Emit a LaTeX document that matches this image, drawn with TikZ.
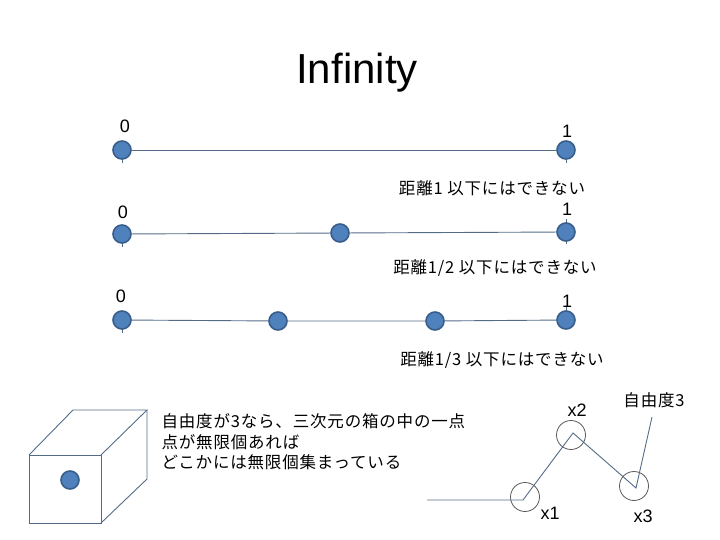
\documentclass[tikz,border=0pt]{standalone}
\usepackage{fontspec}
\setmainfont{Liberation Sans}
\newfontfamily\jp[LetterSpace=5]{Noto Sans CJK JP}
\usetikzlibrary{positioning,backgrounds}

\definecolor{dotfill}{RGB}{79,129,189}
\definecolor{dotedge}{RGB}{56,93,138}
\definecolor{axisline}{RGB}{84,108,136}
\definecolor{ringgray}{RGB}{90,90,90}

\begin{document}
\begin{tikzpicture}[
    x=1pt, y=-1pt,
    pt/.style={circle, fill=dotfill, draw=dotedge, line width=1.6pt,
        minimum size=18pt, inner sep=0pt},
    ring/.style={circle, draw=ringgray, line width=0.8pt,
        minimum size=29pt, inner sep=0pt},
    axis/.style={draw=axisline, line width=0.9pt},
    num/.style={font=\fontsize{18}{20}\selectfont},
    note/.style={font=\jp\fontsize{16.5}{20.5}\selectfont},
]
\useasboundingbox (0,0) rectangle (720,540);

% title
\node[font=\fontsize{42}{46}\selectfont] (title) at (357,73) {Infinity};

% first segment
\node[pt] (a0) at (122,150) {};
\node[pt] (a1) at (566,150) {};
\node[num] (la0) at (125,126) {0};
\node[num] (la1) at (567,131) {1};

% halves
\node[pt] (b0) at (122,234) {};
\node[pt] (b1) at (340,233) {};
\node[pt] (b2) at (566,232) {};
\node[num] (lb0) at (123,212) {0};
\node[num] (lb2) at (567,209) {1};
\node[note] (dist1) at (492,188) {距離1 以下にはできない};

% thirds
\node[pt] (c0) at (122,320) {};
\node[pt] (c1) at (278,321) {};
\node[pt] (c2) at (435,321) {};
\node[pt] (c3) at (566,320) {};
\node[num] (lc0) at (121,296) {0};
\node[num] (lc3) at (567,301) {1};
\node[note] (dist2) at (495,268) {距離1/2 以下にはできない};
\node[note] (dist3) at (502,360) {距離1/3 以下にはできない};

\begin{scope}[on background layer]
\draw[axis] (a0) -- (a1);
\draw[axis] (b0) -- (b1) -- (b2);
\draw[axis] (c0) -- (c1) -- (c2) -- (c3);
% stray ticks
\draw[axis] (a0.center) -- ++(0,13);
\draw[axis] (a1.center) -- ++(0,13);
\draw[axis] (b0.center) -- ++(0,13);
\draw[axis] (b2.center) -- ++(0,-13) (b2.center) -- ++(0,12);
\draw[axis] (c0.center) -- ++(0,13);
\draw[axis] (c3.center) -- ++(0,-13);
\end{scope}

% box with one point
\draw[axis] (29,455) rectangle (101,523);
\draw[axis] (29,455) -- (73,410) -- (147,410) -- (101,455);
\draw[axis] (147,410) -- (147,479) -- (101,523);
\node[pt] (inner) at (70,480) {};
\node[note, anchor=west, align=left] (box text) at (158,442)
    {自由度が3なら、三次元の箱の中の一点\\点が無限個あれば\\どこかには無限個集まっている};

% chain with three degrees of freedom
\coordinate (start) at (427,500);
\coordinate (j1) at (523,500);
\coordinate (j2) at (573,433);
\coordinate (j3) at (636,488);
\coordinate (tip) at (652,417);
\node[ring] (x1) at (525,497) {};
\node[ring] (x2) at (571,435) {};
\node[ring] (x3) at (634,486) {};
\draw[axis] (start) -- (j1) -- (j2) -- (j3) -- (tip);
\node[num] (lx1) at (550,513) {x1};
\node[num] (lx2) at (577,410) {x2};
\node[num] (lx3) at (643,516) {x3};
\node[note] (dof) at (654,400) {自由度3};
\end{tikzpicture}
\end{document}
